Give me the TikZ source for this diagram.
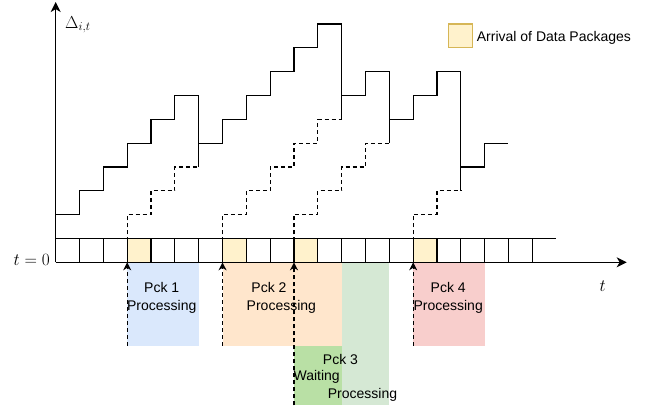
\documentclass[tikz,border=0pt]{standalone}
\usepackage{fontspec}
\newfontfamily\arialf{Liberation Sans}
\usetikzlibrary{arrows.meta}
\definecolor{pblue}{HTML}{DAE8FC}
\definecolor{porange}{HTML}{FFE6CC}
\definecolor{pgreenl}{HTML}{D5E8D4}
\definecolor{pgreend}{HTML}{B9E0A5}
\definecolor{pred}{HTML}{F8CECC}
\definecolor{pyellow}{HTML}{FFF2CC}
\definecolor{pyellowd}{HTML}{D6B656}
\begin{document}
\begin{tikzpicture}[x=23.83pt,y=23.83pt,
  axis/.style={line width=1.2pt,-{Stealth[length=10pt,width=10pt,inset=3pt]}},
  stair/.style={line width=1.2pt},
  dsh/.style={line width=1.2pt,dash pattern=on 4pt off 3pt},
  upar/.style={dsh,-{Stealth[length=8pt,width=8pt,inset=2.5pt]}},
  lbl/.style={font=\arialf\fontsize{14}{16}\selectfont, inner sep=0pt, anchor=base},
  mth/.style={font=\fontsize{17.28}{20}\selectfont, inner sep=0pt},
  pbox/.style={draw=none}]
\useasboundingbox (-2.337,-6.282) rectangle (25.065,11.007);
% colored processing boxes
\fill[pblue]   (3,0) rectangle (6,-3.5);
\fill[porange] (7,0) rectangle (12,-3.5);
\fill[pgreenl] (12,0) rectangle (14,-6);
\fill[pgreend] (10,-3.5) rectangle (12,-6);
\fill[pred]    (15,0) rectangle (18,-3.5);
% yellow arrival cells
\foreach \c in {3,7,10,15} \fill[pyellow] (\c,0) rectangle (\c+1,1);
% cell row
\draw[stair] (0,1) -- (21,1);
\foreach \c in {1,...,20} \draw[stair] (\c,0) -- (\c,1);
% axes
\coordinate (O) at (0,0);
\coordinate (ytip) at (0,10.92);
\coordinate (xtip) at (23.96,0);
\draw[axis] (O) -- (ytip);
\draw[axis] (O) -- (xtip);
% staircase (solid)
\draw[stair] (0,2) -| (1,3) -| (2,4) -| (3,5) -| (4,6) -| (5,7) -| (6,4);
\draw[stair] (6,5) -| (7,6) -| (8,7) -| (9,8) -| (10,9) -| (11,10) -| (12,6);
\draw[stair] (12,7) -| (13,8) -| (14,5);
\draw[stair] (14,6) -| (15,7) -| (16,8) -| (17,3);
\draw[stair] (17,4) -| (18,5) -- (19,5);
% dashed staircases
\draw[dsh] (3,0) -- (3,2) -| (4,3) -| (5,4) -- (6,4);
\draw[dsh] (7,0) -- (7,2) -| (8,3) -| (9,4) -| (10,5) -| (11,6) -- (12,6);
\draw[dsh] (10,0) -- (10,2) -| (11,3) -| (12,4) -| (13,5) -- (14,5);
\draw[dsh] (15,0) -- (15,2) -| (16,3) -- (17,3);
% arrival arrows
\coordinate (a1) at (3,-3.5);  \coordinate (t1) at (3,0);
\coordinate (a2) at (7,-3.5);  \coordinate (t2) at (7,0);
\coordinate (a3) at (10,-6);   \coordinate (t3) at (10,0);
\coordinate (a4) at (15,-3.5); \coordinate (t4) at (15,0);
\draw[upar] (a1) -- (t1);
\draw[upar] (a2) -- (t2);
\draw[upar] (a3) -- (t3);
\draw[upar] (a4) -- (t4);
% math labels
\node[mth, anchor=base west] (ylab) at (0.39,9.83) {$\Delta_{i,t}$};
\node[mth, anchor=base east] (t0) at (-0.239,-0.155) {$t=0$};
\node[mth, anchor=base] (tlab) at (22.95,-1.234) {$t$};
% box texts
\node[lbl] (p1a) at (4.45,-1.259) {Pck 1};
\node[lbl] (p1b) at (4.45,-2.031) {Processing};
\node[lbl] (p2a) at (8.95,-1.259) {Pck 2};
\node[lbl] (p2b) at (9.47,-2.031) {Processing};
\node[lbl] (p3a) at (11.95,-4.268) {Pck 3};
\node[lbl] (p3b) at (10.95,-4.969) {Waiting};
\node[lbl] (p3c) at (12.875,-5.707) {Processing};
\node[lbl] (p4a) at (16.47,-1.259) {Pck 4};
\node[lbl] (p4b) at (16.47,-2.031) {Processing};
% legend
\filldraw[fill=pyellow, draw=pyellowd, line width=1.2pt] (16.47,9) rectangle (17.49,10);
\node[lbl, anchor=base west] (leg) at (17.667,9.257) {Arrival of Data Packages};
\end{tikzpicture}
\end{document}
